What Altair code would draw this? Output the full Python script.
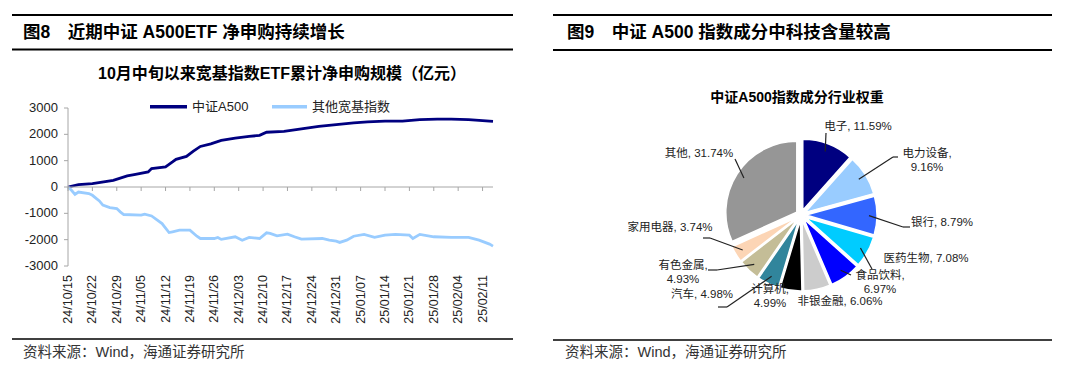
import altair as alt
import pandas as pd

# ------------------------------------------------------------------
# Data: left chart (cumulative net subscriptions, 亿元)
# ------------------------------------------------------------------
a500_dates = ["2024-10-15", "2024-10-18", "2024-10-22", "2024-10-28", "2024-11-01", "2024-11-03",
              "2024-11-07", "2024-11-08", "2024-11-12", "2024-11-14", "2024-11-15", "2024-11-18",
              "2024-11-20", "2024-11-22", "2024-11-25", "2024-11-28", "2024-12-02", "2024-12-06",
              "2024-12-09", "2024-12-11", "2024-12-16", "2024-12-21", "2024-12-26", "2024-12-31",
              "2025-01-05", "2025-01-09", "2025-01-14", "2025-01-19", "2025-01-24", "2025-01-29",
              "2025-02-02", "2025-02-07", "2025-02-11", "2025-02-14"]
a500_values = [0, 90, 130, 250, 420, 470, 570, 700, 760, 950, 1050, 1160, 1360, 1540, 1640, 1770,
               1860, 1920, 1960, 2080, 2110, 2210, 2300, 2370, 2435, 2475, 2500, 2500, 2560, 2575,
               2575, 2560, 2520, 2490]

other_dates = ["2024-10-15", "2024-10-16", "2024-10-17", "2024-10-18", "2024-10-21", "2024-10-22",
               "2024-10-24", "2024-10-25", "2024-10-27", "2024-10-29", "2024-10-30", "2024-10-31",
               "2024-11-05", "2024-11-06", "2024-11-08", "2024-11-11", "2024-11-13", "2024-11-14",
               "2024-11-16", "2024-11-19", "2024-11-21", "2024-11-22", "2024-11-26", "2024-11-27",
               "2024-11-28", "2024-12-02", "2024-12-04", "2024-12-06", "2024-12-09", "2024-12-11",
               "2024-12-12", "2024-12-14", "2024-12-17", "2024-12-19", "2024-12-21", "2024-12-27",
               "2024-12-29", "2024-12-31", "2025-01-01", "2025-01-03", "2025-01-05", "2025-01-08",
               "2025-01-11", "2025-01-14", "2025-01-17", "2025-01-21", "2025-01-22", "2025-01-24",
               "2025-01-28", "2025-02-02", "2025-02-07", "2025-02-10", "2025-02-13", "2025-02-14"]
other_values = [0, -125, -280, -190, -250, -315, -530, -690, -780, -820, -945, -1045, -1070, -1035,
                -1100, -1390, -1730, -1700, -1640, -1640, -1870, -1955, -1955, -1915, -1990, -1890,
                -2020, -1915, -1955, -1740, -1765, -1855, -1790, -1890, -1980, -1955, -2020, -2055,
                -2105, -2020, -1870, -1800, -1915, -1830, -1800, -1830, -1955, -1800, -1890, -1915,
                -1915, -2020, -2170, -2245]

tick_dates = ["2024-10-15", "2024-10-22", "2024-10-29", "2024-11-05", "2024-11-12", "2024-11-19",
              "2024-11-26", "2024-12-03", "2024-12-10", "2024-12-17", "2024-12-24", "2024-12-31",
              "2025-01-07", "2025-01-14", "2025-01-21", "2025-01-28", "2025-02-04", "2025-02-11"]
x_domain = ["2024-10-15", "2025-02-14"]
y_ticks = [-3000, -2000, -1000, 0, 1000, 2000, 3000]

series_names = ["中证A500", "其他宽基指数"]
series_colors = ["#000080", "#99CCFF"]

# ------------------------------------------------------------------
# Data: right chart (industry weights of CSI A500, %)
# ------------------------------------------------------------------
industries = ["电子", "电力设备", "银行", "医药生物", "食品饮料", "非银金融",
              "计算机", "汽车", "有色金属", "家用电器", "其他"]
weights = [11.59, 9.16, 8.79, 7.08, 6.97, 6.06, 4.99, 4.98, 4.93, 3.74, 31.74]
pie_colors = ["#000080", "#99CCFF", "#3366FF", "#00CCFF", "#0000FF", "#CCCCCC",
              "#000000", "#31859C", "#C4BD97", "#FCD5B5", "#969696"]

# ------------------------------------------------------------------
# Layout / style
# ------------------------------------------------------------------
FONT = "Liberation Sans, Noto Sans CJK SC"
GRAY = "#A6A6A6"
PW, PH = 532, 352
PIE_CX, PIE_CY, PIE_R = 261, 207, 71
EXPLODE = 5
LEAD_R = 68
AX_X = 60          # pixel x of the value axis
XLAB_Y = 267       # pixel y of the top of the date labels

label_breaks = {"电力设备", "食品饮料", "计算机", "有色金属"}
# (x centre, y of first line) in panel pixels
label_pos = {
    "电子": (318, 119), "电力设备": (387, 146), "银行": (402, 215), "医药生物": (386, 251),
    "食品饮料": (340, 268), "非银金融": (300, 294), "计算机": (230, 282), "汽车": (162, 287),
    "有色金属": (143, 258), "家用电器": (130, 220), "其他": (159, 146),
}
leader_elbow = {
    "电子": (286, 125), "电力设备": (353, 149), "银行": (363, 219), "医药生物": (332, 261),
    "食品饮料": (311, 267), "汽车": (187, 299), "有色金属": (177, 262), "家用电器": (170, 230),
    "其他": (195, 151),
}
leader_hend = {"电力设备": 358, "银行": 370, "汽车": 178, "有色金属": 168, "家用电器": 163}


def dt(s):
    y, m, d = (int(p) for p in s.split("-"))
    return alt.DateTime(year=y, month=m, date=d)


one = pd.DataFrame({"k": [0]})


def rule(x1, x2, y, w=2.0, color="black"):
    return alt.Chart(one).mark_rule(color=color, strokeWidth=w).encode(
        x=alt.value(x1), x2=alt.value(x2), y=alt.value(y))


def label(t, x, y, size, weight="normal", align="left", color="black"):
    return alt.Chart(one).mark_text(text=t, align=align, baseline="middle", fontSize=size,
                                    fontWeight=weight, font=FONT, color=color).encode(
        x=alt.value(x), y=alt.value(y))


# ------------------------------------------------------------------
# Left panel
# ------------------------------------------------------------------
line_df = pd.concat([
    pd.DataFrame({"date": pd.to_datetime(a500_dates), "value": a500_values, "series": series_names[0]}),
    pd.DataFrame({"date": pd.to_datetime(other_dates), "value": other_values, "series": series_names[1]}),
])

x_scale = alt.Scale(domain=[dt(d) for d in x_domain], range=[AX_X, 485], nice=False)
y_scale = alt.Scale(domain=[-3000, 3000], range=[258, 100], nice=False, zero=False)

lines = alt.Chart(line_df).mark_line(strokeWidth=2.8).encode(
    x=alt.X("date:T", scale=x_scale, axis=None),
    y=alt.Y("value:Q", scale=y_scale, axis=None),
    color=alt.Color("series:N", scale=alt.Scale(domain=series_names, range=series_colors),
                    legend=None),
)

# value axis drawn from the y scale
yv_df = pd.DataFrame({"v": y_ticks, "txt": [str(v) for v in y_ticks]})
y_dom_df = pd.DataFrame({"v": [y_ticks[0]], "v2": [y_ticks[-1]]})
y_domain = alt.Chart(y_dom_df).mark_rule(color=GRAY, strokeWidth=1).encode(
    x=alt.value(AX_X), y=alt.Y("v:Q", axis=None), y2="v2:Q")
y_tick_marks = alt.Chart(yv_df).mark_rule(color=GRAY, strokeWidth=1).encode(
    x=alt.value(AX_X - 4), x2=alt.value(AX_X), y=alt.Y("v:Q", axis=None))
y_labels = alt.Chart(yv_df).mark_text(align="right", baseline="middle", fontSize=13, font=FONT,
                                      color="#222").encode(
    x=alt.value(AX_X - 10), y=alt.Y("v:Q", axis=None), text="txt:N")

# date axis drawn from the x scale
xt_df = pd.DataFrame({"date": pd.to_datetime(tick_dates), "value": 0})
xt_df["txt"] = xt_df["date"].dt.strftime("%y/%m/%d")
x_labels = alt.Chart(xt_df).mark_text(angle=270, align="right", baseline="middle", fontSize=12.5,
                                      font=FONT, color="#222").encode(
    x=alt.X("date:T", axis=None), y=alt.value(XLAB_Y), text="txt:N")

zero_df = pd.DataFrame({"date": pd.to_datetime(x_domain), "value": [0, 0]})
zero_line = alt.Chart(zero_df).mark_line(color=GRAY, strokeWidth=1).encode(
    x=alt.X("date:T", axis=None), y=alt.Y("value:Q", axis=None))
zero_ticks = alt.Chart(xt_df).mark_rule(color=GRAY, strokeWidth=1).encode(
    x=alt.X("date:T", axis=None), y=alt.Y("value:Q", axis=None), y2=alt.value(183))

left = alt.layer(
    lines, zero_line, zero_ticks, y_domain, y_tick_marks, y_labels, x_labels,
    rule(142, 179, 98.7, 3.5, series_colors[0]),
    label(series_names[0], 184, 98.7, 13, "normal", "left", "#222"),
    rule(264, 299, 98.7, 3.5, series_colors[1]),
    label(series_names[1], 304, 98.7, 13, "normal", "left", "#222"),
    rule(4, 505, 7), rule(4, 505, 41.5), rule(4, 505, 331, 1.4),
    label("图8\u3000近期中证 A500ETF 净申购持续增长", 15, 25, 17.5, "bold"),
    label("10月中旬以来宽基指数ETF累计净申购规模（亿元）", 274, 66, 16, "bold", "center"),
    label("资料来源：Wind，海通证券研究所", 15, 345, 14.5, "normal", "left", "#333"),
).properties(width=PW, height=PH)

# ------------------------------------------------------------------
# Right panel
# ------------------------------------------------------------------
pie_df = pd.DataFrame({"industry": industries, "weight": weights, "idx": list(range(len(industries)))})
pie_df["label"] = [f"{n},\n{w:.2f}%" if n in label_breaks else f"{n}, {w:.2f}%"
                   for n, w in zip(industries, weights)]
pie_df["lx"] = [label_pos[n][0] for n in industries]
pie_df["ly"] = [label_pos[n][1] for n in industries]
pie_df["ex"] = [leader_elbow.get(n, (None, None))[0] for n in industries]
pie_df["ey"] = [leader_elbow.get(n, (None, None))[1] for n in industries]
pie_df["hx"] = [leader_hend.get(n) for n in industries]

# slice angles from cumulative weights (clockwise from 12 o'clock), exploded slightly
pie_base = alt.Chart(pie_df).transform_joinaggregate(
    total="sum(weight)"
).transform_window(
    cum="sum(weight)", sort=[alt.SortField("idx")], frame=[None, 0]
).transform_calculate(
    t0="(datum.cum - datum.weight) / datum.total * 2 * PI",
    t1="datum.cum / datum.total * 2 * PI",
    mid="(datum.t0 + datum.t1) / 2",
    px=f"{PIE_CX} + {EXPLODE} * sin(datum.mid)",
    py=f"{PIE_CY} - {EXPLODE} * cos(datum.mid)",
    sx=f"{PIE_CX} + {LEAD_R} * sin(datum.mid)",
    sy=f"{PIE_CY} - {LEAD_R} * cos(datum.mid)",
)

arcs = pie_base.mark_arc(radius=PIE_R, stroke="white", strokeWidth=1.5).encode(
    theta=alt.Theta("t0:Q", scale=None), theta2="t1:Q",
    x=alt.X("px:Q", scale=None), y=alt.Y("py:Q", scale=None),
    color=alt.Color("industry:N", scale=alt.Scale(domain=industries, range=pie_colors), legend=None),
)

leaders = pie_base.transform_filter("isValid(datum.ex)").mark_rule(
    color="#222", strokeWidth=1.2).encode(
    x=alt.X("sx:Q", scale=None), y=alt.Y("sy:Q", scale=None), x2="ex:Q", y2="ey:Q")
leader_h = alt.Chart(pie_df).transform_filter("isValid(datum.hx)").mark_rule(
    color="#222", strokeWidth=1.2).encode(
    x=alt.X("ex:Q", scale=None), x2="hx:Q", y=alt.Y("ey:Q", scale=None))

pie_labels = alt.Chart(pie_df).mark_text(align="center", baseline="middle", lineBreak="\n",
                                         lineHeight=14, fontSize=11.5, font=FONT,
                                         color="#222").encode(
    x=alt.X("lx:Q", scale=None), y=alt.Y("ly:Q", scale=None), text="label:N")

right = alt.layer(
    arcs, leaders, leader_h, pie_labels,
    rule(13, 512, 7), rule(13, 512, 42), rule(13, 512, 332, 1.4),
    label("图9\u3000中证 A500 指数成分中科技含量较高", 27, 25, 17.5, "bold"),
    label("中证A500指数成分行业权重", 257, 90, 14, "bold", "center"),
    label("资料来源：Wind，海通证券研究所", 25, 345, 14.5, "normal", "left", "#333"),
).properties(width=PW, height=PH)

chart = alt.hconcat(left, right, spacing=0).resolve_scale(
    x="independent", y="independent", color="independent"
).properties(padding=0).configure_view(stroke=None)

chart.save("out.html", embed_options={"renderer": "svg", "actions": False})
